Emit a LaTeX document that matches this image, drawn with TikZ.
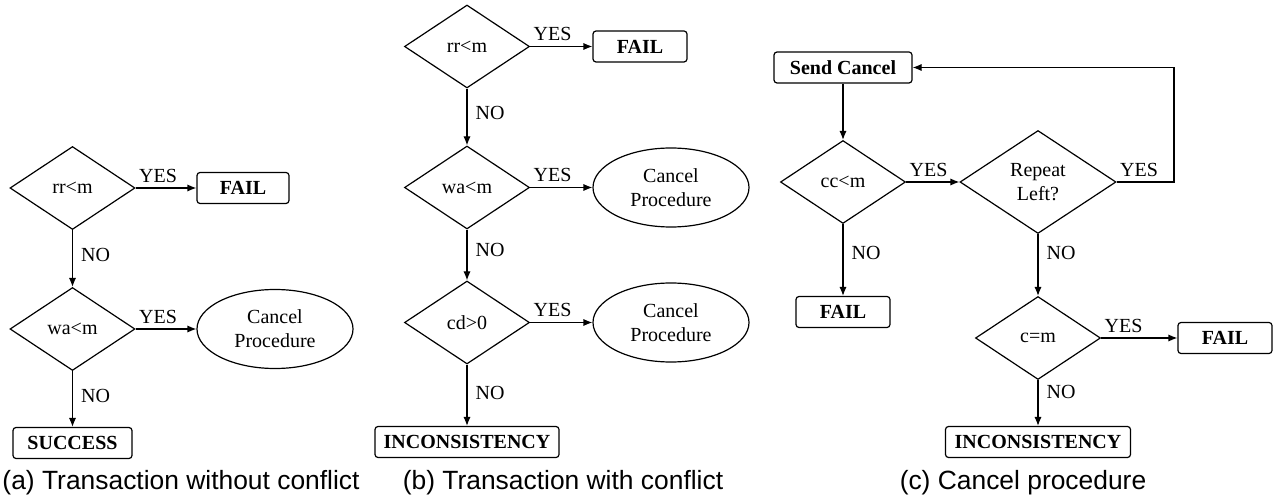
\documentclass[tikz,border=0pt]{standalone}
\usepackage{fontspec}
\setmainfont{Liberation Serif}
\newfontfamily\capfont{Liberation Sans}
\usepackage{tikz}
\usetikzlibrary{shapes.geometric,arrows.meta}

\begin{document}
\begin{tikzpicture}[x=0.5pt,y=-0.5pt,line width=0.6pt,
  decision/.style={draw,diamond,inner sep=0pt,minimum width=62.5pt,minimum height=41.5pt,align=center},
  result/.style={draw,rounded corners=1.5pt,minimum height=15.5pt,inner sep=0pt,font=\bfseries},
  proc/.style={draw,ellipse,minimum width=78pt,minimum height=39.5pt,inner sep=0pt,align=center},
  flow/.style={-{Latex[length=4.5pt,width=3.6pt]}},
  yeslbl/.style={anchor=south west,pos=0,inner xsep=1.5pt,inner ysep=2.5pt},
  nolbl/.style={anchor=west,inner sep=4pt},
  caption/.style={font=\capfont\fontsize{13.2}{15}\selectfont}]
\useasboundingbox (0,0) rectangle (1275,502);

% (a) transaction without conflict
\node[decision] (rrA) at (72.5,188) {rr<m};
\node[result,minimum width=46pt] (failA) at (243,188) {FAIL};
\node[decision] (waA) at (72.5,329) {wa<m};
\node[proc] (cancelA) at (275,329) {Cancel\\Procedure};
\node[result,minimum width=59.5pt] (successA) at (72.5,443) {SUCCESS};
\draw[flow] (rrA) -- node[yeslbl]{YES} (failA);
\draw[flow] (rrA) -- node[nolbl,pos=0.44]{NO} (waA);
\draw[flow] (waA) -- node[yeslbl]{YES} (cancelA);
\draw[flow] (waA) -- node[nolbl,pos=0.44]{NO} (successA);
\node[caption] (capA) at (181,483) {(a) Transaction without conflict};

% (b) transaction with conflict
\node[decision] (rrB) at (467,46.5) {rr<m};
\node[result,minimum width=47pt] (failB) at (640,46.5) {FAIL};
\node[decision] (waB) at (467,187.5) {wa<m};
\node[proc] (cancelB) at (671,187.5) {Cancel\\Procedure};
\node[decision] (cdB) at (467,322.5) {cd>0};
\node[proc] (cancelBB) at (671,322.5) {Cancel\\Procedure};
\node[result,minimum width=92pt] (incB) at (467,442) {INCONSISTENCY};
\draw[flow] (rrB) -- node[yeslbl]{YES} (failB);
\draw[flow] (rrB) -- node[nolbl,pos=0.43]{NO} (waB);
\draw[flow] (waB) -- node[yeslbl]{YES} (cancelB);
\draw[flow] (waB) -- node[nolbl,pos=0.4]{NO} (cdB);
\draw[flow] (cdB) -- node[yeslbl]{YES} (cancelBB);
\draw[flow] (cdB) -- node[nolbl,pos=0.47]{NO} (incB);
\node[caption] (capB) at (563,483) {(b) Transaction with conflict};

% (c) cancel procedure
\node[result,minimum width=69pt] (sendC) at (843,67.5) {Send Cancel};
\node[decision] (ccC) at (843,182) {cc<m};
\node[decision,minimum width=78pt,minimum height=51.5pt] (repeatC) at (1038,182) {Repeat\\Left?};
\node[result,minimum width=47pt] (failC) at (843,312) {FAIL};
\node[decision] (cmC) at (1038,338) {c=m};
\node[result,minimum width=47pt] (failCC) at (1225,338) {FAIL};
\node[result,minimum width=92.5pt] (incC) at (1038,442) {INCONSISTENCY};
\coordinate (turnC) at (1174,67.5);
\draw[flow] (sendC) -- (ccC);
\draw[flow] (ccC) -- node[yeslbl]{YES} (repeatC);
\draw[flow] (ccC) -- node[nolbl,pos=0.4]{NO} (failC);
\draw[flow] (repeatC.east) -| node[yeslbl]{YES} (turnC) -- (sendC.east);
\draw[flow] (repeatC) -- node[nolbl,pos=0.3]{NO} (cmC);
\draw[flow] (cmC) -- node[yeslbl]{YES} (failCC);
\draw[flow] (cmC) -- node[nolbl,pos=0.27]{NO} (incC);
\node[caption] (capC) at (1023,483) {(c) Cancel procedure};
\end{tikzpicture}
\end{document}
